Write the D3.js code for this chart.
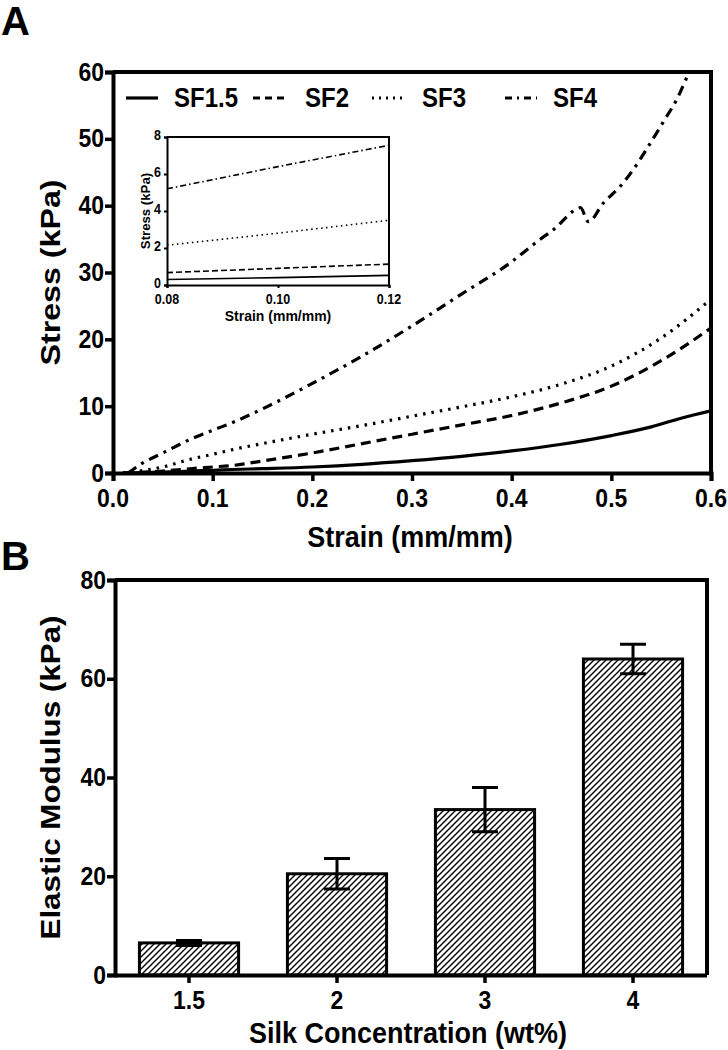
<!DOCTYPE html>
<html><head><meta charset="utf-8">
<script src="https://cdn.jsdelivr.net/npm/d3@7"></script>
<style>body{margin:0;background:#fff}svg{display:block}text{font-family:"Liberation Sans",Arial,sans-serif;font-weight:bold;fill:#000}</style>
</head><body>
<script>
// ---------- data ----------
const strainTicks = [0, 0.1, 0.2, 0.3, 0.4, 0.5, 0.6];
const stressTicks = [0, 10, 20, 30, 40, 50, 60];
const seriesNames = ["SF1.5", "SF2", "SF3", "SF4"];
const sf15 = [[0.01,0],[0.05,0.15],[0.08,0.3],[0.1,0.4],[0.12,0.52],[0.15,0.65],[0.2,0.9],[0.25,1.3],[0.3,1.85],[0.35,2.5],[0.4,3.3],[0.45,4.3],[0.5,5.6],[0.54,6.9],[0.57,8.2],[0.6,9.3]];
const sf2 = [[0.01,0],[0.05,0.3],[0.08,0.67],[0.1,0.9],[0.12,1.13],[0.15,1.8],[0.2,3.0],[0.25,4.4],[0.3,5.8],[0.35,7.2],[0.4,8.6],[0.45,10.5],[0.5,13.0],[0.55,16.8],[0.6,21.7]];
const sf3 = [[0.01,0],[0.05,0.9],[0.08,2.15],[0.1,2.8],[0.12,3.5],[0.15,4.4],[0.2,5.8],[0.25,7.1],[0.3,8.5],[0.35,9.9],[0.4,11.4],[0.45,13.3],[0.5,16.0],[0.55,20.2],[0.6,26]];
const sf4 = [[0.015,0],[0.03,1.5],[0.05,3.0],[0.08,5.2],[0.1,6.4],[0.12,7.55],[0.15,9.6],[0.2,13.4],[0.25,17.5],[0.3,22],[0.35,26.8],[0.4,31.6],[0.428,34.9],[0.445,36.8],[0.461,39.1],[0.469,39.7],[0.477,37.6],[0.492,40.4],[0.509,42.9],[0.522,45.4],[0.536,48.6],[0.552,52.5],[0.566,56.0],[0.577,59.6],[0.585,62]];
const insetStrainTicks = [0.08, 0.10, 0.12];
const insetStressTicks = [0, 2, 4, 6, 8];
const silkConc = ["1.5", "2", "3", "4"];
const modulus = [6.5, 20.5, 33.5, 64];
const modulusErr = [0.5, 3.1, 4.5, 3.0];
const modulusTicks = [0, 20, 40, 60, 80];

// ---------- setup ----------
const W = 728, H = 1050;
const svg = d3.select("body").append("svg").attr("width", W).attr("height", H);
const defs = svg.append("defs");
const pat = defs.append("pattern").attr("id","hatch").attr("patternUnits","userSpaceOnUse").attr("width",6).attr("height",6);
pat.append("rect").attr("width",6).attr("height",6).attr("fill","#fff");
pat.append("path").attr("d","M-1,1 L1,-1 M0,6 L6,0 M5,7 L7,5").attr("stroke","#000").attr("stroke-width",1.4);

const dashes = {"SF1.5": null, "SF2": "10,6", "SF3": "2.5,6", "SF4": "10,6,3,6"};
const seriesData = {"SF1.5": sf15, "SF2": sf2, "SF3": sf3, "SF4": sf4};

function txt(g, x, y, s, size, anchor, sy, rot) {
  return g.append("text")
    .attr("transform", `translate(${x},${y}) scale(1,${sy||1})` + (rot ? ` rotate(${rot})` : ""))
    .attr("text-anchor", anchor || "middle").attr("font-size", size).text(s);
}

// ---------- Panel A ----------
const ax = {l:113, r:711, t:72, b:473};
const x = d3.scaleLinear().domain([0,0.6]).range([ax.l, ax.r]);
const y = d3.scaleLinear().domain([0,60]).range([ax.b, ax.t]);
const gA = svg.append("g");
defs.append("clipPath").attr("id","clipA").append("rect").attr("x",ax.l).attr("y",ax.t).attr("width",ax.r-ax.l).attr("height",ax.b-ax.t);

const line = d3.line().x(d=>x(d[0])).y(d=>y(d[1])).curve(d3.curveMonotoneX);
seriesNames.forEach(n=>{
  gA.append("path").attr("clip-path","url(#clipA)").attr("d", line(seriesData[n]))
    .attr("fill","none").attr("stroke","#000").attr("stroke-width",3.2)
    .attr("stroke-dasharray", dashes[n]);
});
gA.append("path").attr("d",`M${ax.l},${ax.t}H${ax.r}V${ax.b}`).attr("fill","none").attr("stroke","#000").attr("stroke-width",4);
const xAxisA = gA.append("g").attr("transform",`translate(0,${ax.b})`)
  .call(d3.axisBottom(x).tickValues(strainTicks).tickSize(8));
const yAxisA = gA.append("g").attr("transform",`translate(${ax.l},0)`)
  .call(d3.axisLeft(y).tickValues(stressTicks).tickSize(8));
[xAxisA, yAxisA].forEach(g=>{
  g.select(".domain").attr("stroke-width",4);
  g.selectAll(".tick line").attr("stroke-width",3.5);
  g.selectAll("text").remove();
});
strainTicks.forEach(v=>txt(gA, x(v), 507, d3.format(".1f")(v), 23, "middle", 1.15));
stressTicks.forEach(v=>txt(gA, 104, y(v)+8.5, String(v), 23, "end", 1.15));
txt(gA, 410, 547, "Strain (mm/mm)", 27, "middle", 1.12);
txt(gA, 60, (ax.t+ax.b)/2, "Stress (kPa)", 28, "middle", 1.15, -90);
txt(svg, 1, 35, "A", 40, "start", 1.0);

// legend
const legX = [126, 253, 372, 505], legTX = [174, 305, 422, 553];
const legDash = {"SF1.5": null, "SF2": "7,5", "SF3": "2,5", "SF4": "7,5,2,5"};
seriesNames.forEach((n,i)=>{
  gA.append("line").attr("x1",legX[i]).attr("x2",legX[i]+32).attr("y1",98).attr("y2",98)
    .attr("stroke","#000").attr("stroke-width",3.2).attr("stroke-dasharray", legDash[n]);
  txt(gA, legTX[i], 107, n, 24, "start", 1.15);
});

// inset
const ins = {l:167, r:389, t:137, b:285};
const xi = d3.scaleLinear().domain([0.08,0.12]).range([ins.l, ins.r]);
const yi = d3.scaleLinear().domain([0,8]).range([ins.b, ins.t]);
const gI = svg.append("g");
defs.append("clipPath").attr("id","clipI").append("rect").attr("x",ins.l).attr("y",ins.t).attr("width",ins.r-ins.l).attr("height",ins.b-ins.t);
gI.append("rect").attr("x",ins.l).attr("y",ins.t).attr("width",ins.r-ins.l).attr("height",ins.b-ins.t).attr("fill","#fff");
const lineI = d3.line().x(d=>xi(d[0])).y(d=>yi(d[1]));
const insetDash = {"SF1.5": null, "SF2": "6,3", "SF3": "1.5,3.5", "SF4": "6,3,1.5,3"};
seriesNames.forEach(n=>{
  gI.append("path").attr("clip-path","url(#clipI)").attr("d", lineI(seriesData[n].filter(d=>d[0]>=0.07&&d[0]<=0.13)))
    .attr("fill","none").attr("stroke","#000").attr("stroke-width",1.6).attr("stroke-dasharray", insetDash[n]);
});
gI.append("path").attr("d",`M${ins.l},${ins.t}H${ins.r}V${ins.b}`).attr("fill","none").attr("stroke","#000").attr("stroke-width",2);
const xAxisI = gI.append("g").attr("transform",`translate(0,${ins.b})`)
  .call(d3.axisBottom(xi).tickValues(insetStrainTicks).tickSize(3));
const yAxisI = gI.append("g").attr("transform",`translate(${ins.l},0)`)
  .call(d3.axisLeft(yi).tickValues(insetStressTicks).tickSize(3));
[xAxisI, yAxisI].forEach(g=>{
  g.select(".domain").attr("stroke-width",2);
  g.selectAll(".tick line").attr("stroke-width",2);
  g.selectAll("text").remove();
});
insetStrainTicks.forEach(v=>txt(gI, xi(v), 304, d3.format(".2f")(v), 12.5, "middle", 1.1));
insetStressTicks.forEach(v=>txt(gI, 161, yi(v)+3, String(v), 12.5, "end", 1.1));
txt(gI, 278, 321, "Strain (mm/mm)", 14, "middle", 1.1);
txt(gI, 150, (ins.t+ins.b)/2, "Stress (kPa)", 12, "middle", 1.1, -90);

// ---------- Panel B ----------
const bx = {l:115, r:707, t:580, b:975};
const xb = d3.scaleBand().domain(silkConc).range([bx.l, bx.r]).paddingInner(0.33).paddingOuter(0.165);
const yb = d3.scaleLinear().domain([0,80]).range([bx.b, bx.t]);
const gB = svg.append("g");
gB.selectAll("rect.bar").data(silkConc).join("rect").attr("class","bar")
  .attr("x", d=>xb(d)).attr("width", xb.bandwidth())
  .attr("y", (d,i)=>yb(modulus[i])).attr("height", (d,i)=>yb(0)-yb(modulus[i]))
  .attr("fill","url(#hatch)").attr("stroke","#000").attr("stroke-width",3);
silkConc.forEach((d,i)=>{
  const cx = xb(d)+xb.bandwidth()/2;
  const y1 = yb(modulus[i]+modulusErr[i]), y0 = yb(modulus[i]-modulusErr[i]);
  gB.append("path").attr("d",`M${cx},${y0}V${y1}M${cx-13},${y1}H${cx+13}M${cx-13},${y0}H${cx+13}`)
    .attr("stroke","#000").attr("stroke-width",3).attr("fill","none");
});
gB.append("path").attr("d",`M${bx.l},${bx.t}H${bx.r}V${bx.b}`).attr("fill","none").attr("stroke","#000").attr("stroke-width",4);
const xAxisB = gB.append("g").attr("transform",`translate(0,${bx.b})`)
  .call(d3.axisBottom(xb).tickSize(8).tickSizeOuter(0));
const yAxisB = gB.append("g").attr("transform",`translate(${bx.l},0)`)
  .call(d3.axisLeft(yb).tickValues(modulusTicks).tickSize(8));
[xAxisB, yAxisB].forEach(g=>{
  g.select(".domain").attr("stroke-width",4);
  g.selectAll(".tick line").attr("stroke-width",3.5);
  g.selectAll("text").remove();
});
xAxisB.select(".domain").attr("d",`M${bx.l},0.5H${bx.r}`);
silkConc.forEach(d=>txt(gB, xb(d)+xb.bandwidth()/2, 1009, d, 23, "middle", 1.12));
modulusTicks.forEach(v=>txt(gB, 106, yb(v)+8.5, String(v), 23, "end", 1.15));
txt(gB, 408, 1043, "Silk Concentration (wt%)", 27, "middle", 1.1);
txt(gB, 60, (bx.t+bx.b)/2, "Elastic Modulus (kPa)", 28, "middle", 1.12, -90);
txt(svg, 1, 570, "B", 40, "start", 1.0);
</script>
</body></html>
